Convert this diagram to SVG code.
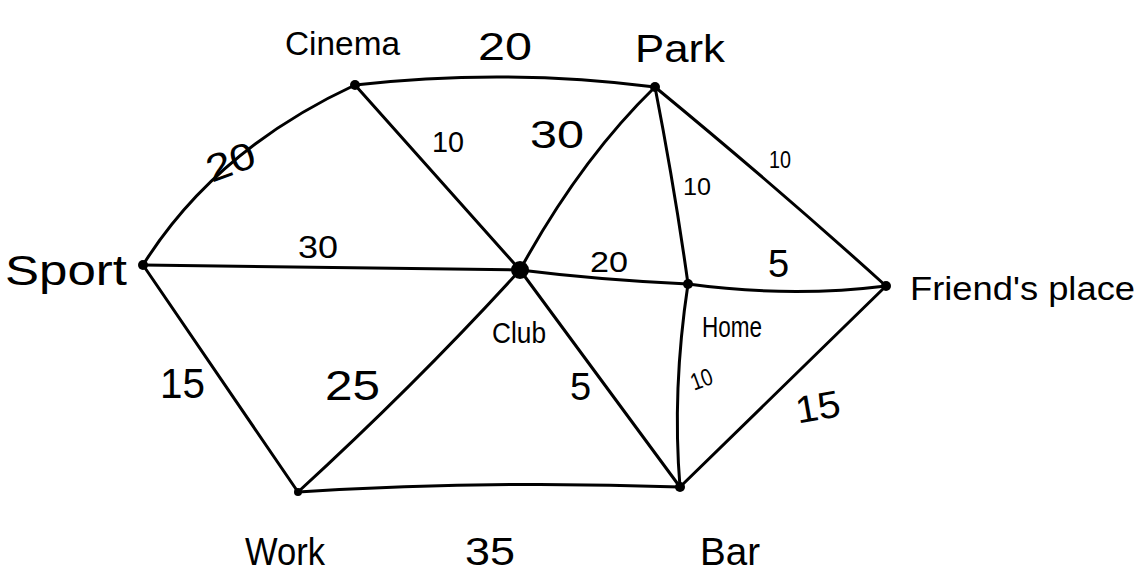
<svg xmlns="http://www.w3.org/2000/svg" width="1142" height="584" viewBox="0 0 1142 584">
<style>
.e{fill:none;stroke:#000;stroke-width:3;stroke-linecap:round}
.n{fill:#000}
.t{font-family:"Liberation Sans",Arial,sans-serif;fill:#000}
.lbl{font-size:34px}
.w{font-size:38px}
.s{font-size:24px}
</style>
<rect width="1142" height="584" fill="#fff"/>
<g id="connectors">
<path class="e" d="M143,265 Q215,150 355,85"/>
<path class="e" d="M355,85 Q505,68 655,87"/>
<path class="e" d="M355,85 L520,270"/>
<path class="e" d="M655,87 Q580,160 520,270"/>
<path class="e" d="M655,87 Q675,190 688,284"/>
<path class="e" d="M655,87 Q780,190 886,286"/>
<path class="e" d="M143,265 L520,270"/>
<path class="e" d="M520,270 Q600,280 688,284"/>
<path class="e" d="M688,284 Q790,298 886,286"/>
<path class="e" d="M143,265 L298,492"/>
<path class="e" d="M298,492 Q420,380 520,270"/>
<path class="e" d="M520,270 L680,487"/>
<path class="e" d="M688,284 Q672,390 680,487"/>
<path class="e" d="M886,286 L680,487"/>
<path class="e" d="M298,492 Q490,480 680,487"/>
</g>
<g id="node-cinema"><circle class="n" cx="355" cy="85" r="5"/><text class="t lbl" x="285" y="55" textLength="115" lengthAdjust="spacingAndGlyphs">Cinema</text></g>
<g id="node-park"><circle class="n" cx="655" cy="87" r="5"/><text class="t" style="font-size:38px" x="635" y="62" textLength="90" lengthAdjust="spacingAndGlyphs">Park</text></g>
<g id="node-sport"><circle class="n" cx="143" cy="265" r="5"/><text class="t" style="font-size:42px" x="5" y="285" textLength="122" lengthAdjust="spacingAndGlyphs">Sport</text></g>
<g id="node-club"><circle class="n" cx="520" cy="270" r="9"/><text class="t" style="font-size:30px" x="492" y="343" textLength="54" lengthAdjust="spacingAndGlyphs">Club</text></g>
<g id="node-home"><circle class="n" cx="688" cy="284" r="5"/><text class="t" style="font-size:30px" x="702" y="337" textLength="60" lengthAdjust="spacingAndGlyphs">Home</text></g>
<g id="node-friend"><circle class="n" cx="886" cy="286" r="5"/><text class="t lbl" x="910" y="300" textLength="225" lengthAdjust="spacingAndGlyphs">Friend's place</text></g>
<g id="node-work"><circle class="n" cx="298" cy="492" r="4"/><text class="t" style="font-size:38px" x="245" y="565" textLength="80" lengthAdjust="spacingAndGlyphs">Work</text></g>
<g id="node-bar"><circle class="n" cx="680" cy="487" r="5"/><text class="t" style="font-size:38px" x="700" y="565" textLength="60" lengthAdjust="spacingAndGlyphs">Bar</text></g>
<g id="edge-labels">
<text class="t w" x="478" y="60" textLength="54" lengthAdjust="spacingAndGlyphs">20</text>
<text class="t w" x="205" y="175" textLength="50" lengthAdjust="spacingAndGlyphs" transform="rotate(-20 230 160)">20</text>
<text class="t" style="font-size:30px" x="432" y="152" textLength="32" lengthAdjust="spacingAndGlyphs">10</text>
<text class="t w" x="530" y="148" textLength="54" lengthAdjust="spacingAndGlyphs">30</text>
<text class="t s" x="683" y="195" textLength="28" lengthAdjust="spacingAndGlyphs">10</text>
<text class="t s" x="769" y="168" textLength="22" lengthAdjust="spacingAndGlyphs">10</text>
<text class="t" style="font-size:32px" x="298" y="258" textLength="40" lengthAdjust="spacingAndGlyphs">30</text>
<text class="t" style="font-size:30px" x="590" y="272" textLength="38" lengthAdjust="spacingAndGlyphs">20</text>
<text class="t w" x="768" y="277">5</text>
<text class="t" style="font-size:42px" x="160" y="398" textLength="45" lengthAdjust="spacingAndGlyphs">15</text>
<text class="t" style="font-size:42px" x="325" y="400" textLength="55" lengthAdjust="spacingAndGlyphs">25</text>
<text class="t w" x="570" y="400">5</text>
<text class="t s" x="690" y="388" textLength="22" lengthAdjust="spacingAndGlyphs" transform="rotate(-20 700 378)">10</text>
<text class="t w" x="795" y="420" textLength="45" lengthAdjust="spacingAndGlyphs" transform="rotate(-10 817 405)">15</text>
<text class="t w" x="465" y="565" textLength="50" lengthAdjust="spacingAndGlyphs">35</text>
</g>
</svg>
